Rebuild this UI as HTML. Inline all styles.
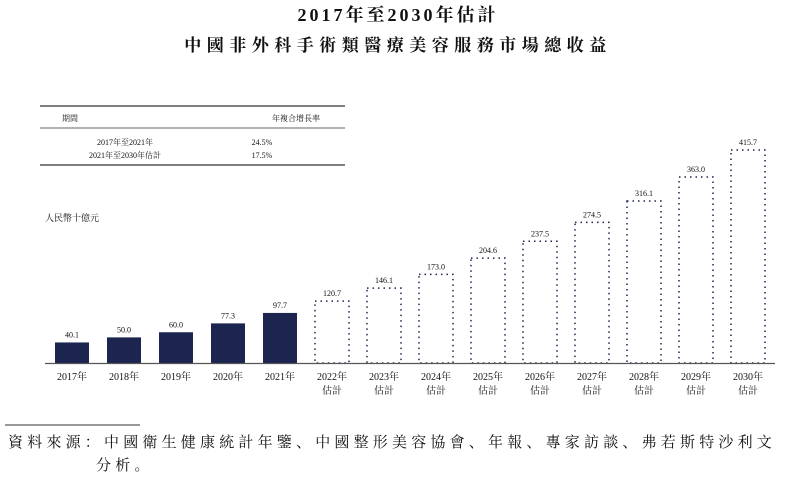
<!DOCTYPE html>
<html><head><meta charset="utf-8"><style>
body{margin:0;background:#fff;}
svg text{font-family:"Liberation Serif","Noto Serif CJK SC","Noto Sans CJK TC",serif;fill:#111;}
</style></head><body>
<svg width="796" height="486">
<text x="398" y="21" text-anchor="middle" font-size="18" font-weight="bold" letter-spacing="3">2017年至2030年估計</text>
<text x="398" y="51" text-anchor="middle" font-size="17" font-weight="bold" letter-spacing="5.5">中國非外科手術類醫療美容服務市場總收益</text>
<g>
<line x1="40" y1="106" x2="345" y2="106" stroke="#333" stroke-width="1.2"/>
<text x="62" y="121" font-size="8">期間</text>
<text x="272" y="121" font-size="8">年複合增長率</text>
<line x1="40" y1="128" x2="345" y2="128" stroke="#333" stroke-width="0.8"/>
<text x="125" y="145" text-anchor="middle" font-size="8">2017年至2021年</text>
<text x="262" y="145" text-anchor="middle" font-size="8">24.5%</text>
<text x="125" y="158" text-anchor="middle" font-size="8">2021年至2030年估計</text>
<text x="262" y="158" text-anchor="middle" font-size="8">17.5%</text>
<line x1="40" y1="165" x2="345" y2="165" stroke="#333" stroke-width="1.2"/>
</g>
<text x="45" y="221" font-size="9">人民幣十億元</text>
<g id="bars"></g>
<line x1="45" y1="363.5" x2="775" y2="363.5" stroke="#555" stroke-width="1.2"/>
<line x1="5" y1="425" x2="140" y2="425" stroke="#333" stroke-width="1"/>
<text x="8" y="447" font-size="15" letter-spacing="4.2">資料來源：中國衛生健康統計年鑒、中國整形美容協會、年報、專家訪談、弗若斯特沙利文</text>
<text x="96" y="470" font-size="15" letter-spacing="4.2">分析。</text>
</svg>
<script>
const years=["2017","2018","2019","2020","2021","2022","2023","2024","2025","2026","2027","2028","2029","2030"];
const values=[40.1,50.0,60.0,77.3,97.7,120.7,146.1,173.0,204.6,237.5,274.5,316.1,363.0,415.7];
const estimated=[false,false,false,false,false,true,true,true,true,true,true,true,true,true];
const ns="http://www.w3.org/2000/svg";
const g=document.getElementById('bars');
const base=363,scale=213/415.7;
function xc(i){return 72+i*52;}
function yv(v){return base-v*scale;}
years.forEach((y,i)=>{
 const x=xc(i)-17,top=yv(values[i]);
 const r=document.createElementNS(ns,'rect');
 r.setAttribute('x',x);r.setAttribute('y',top);r.setAttribute('width',34);r.setAttribute('height',base-top);
 if(estimated[i]){r.setAttribute('fill','none');r.setAttribute('stroke','#1b2550');r.setAttribute('stroke-width','1.5');r.setAttribute('stroke-dasharray','1.5,4');}
 else r.setAttribute('fill','#1b2550');
 
 
 g.appendChild(r);
 const t=document.createElementNS(ns,'text');
 t.setAttribute('x',xc(i));t.setAttribute('y',top-5);t.setAttribute('text-anchor','middle');t.setAttribute('font-size','8');
 t.textContent=values[i].toFixed(1);
 
 
 g.appendChild(t);
 const l=document.createElementNS(ns,'text');
 l.setAttribute('x',xc(i));l.setAttribute('y',380);l.setAttribute('text-anchor','middle');l.setAttribute('font-size','10');
 l.textContent=y+'年';
 
 
 g.appendChild(l);
 if(estimated[i]){
  const e=document.createElementNS(ns,'text');
  e.setAttribute('x',xc(i));e.setAttribute('y',394);e.setAttribute('text-anchor','middle');e.setAttribute('font-size','10');
  e.textContent='估計';
  
  
  g.appendChild(e);
 }
});
</script>
</body></html>
